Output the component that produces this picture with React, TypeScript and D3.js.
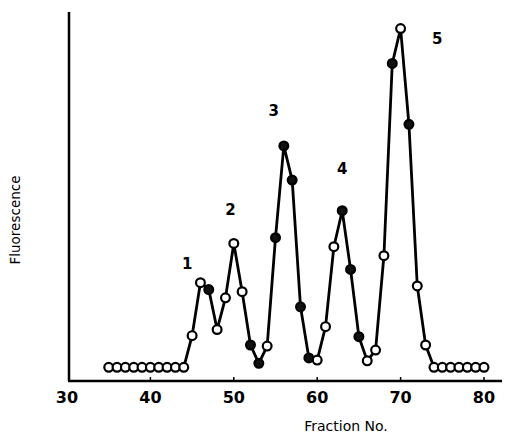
import * as d3 from "d3";
import { useEffect, useRef } from "react";

// fraction numbers and fluorescence readings (arbitrary units, 0-100)
const fractions = [
  35, 36, 37, 38, 39, 40, 41, 42, 43, 44, 45, 46, 47, 48, 49, 50, 51, 52, 53, 54,
  55, 56, 57, 58, 59, 60, 61, 62, 63, 64, 65, 66, 67, 68, 69, 70, 71, 72, 73, 74,
  75, 76, 77, 78, 79, 80,
];
const fluorescence = [
  3.8, 3.8, 3.8, 3.8, 3.8, 3.8, 3.8, 3.8, 3.8, 3.8, 12.6, 27.3, 25.4, 14.3, 23.1,
  38.2, 24.8, 10.0, 4.9, 9.7, 39.8, 65.3, 55.8, 20.6, 6.4, 5.8, 15.1, 37.3, 47.3,
  31.0, 12.3, 5.6, 8.6, 34.8, 88.2, 97.9, 71.3, 26.4, 10.0, 3.8, 3.8, 3.8, 3.8,
  3.8, 3.8, 3.8,
];
// filled (true) or open (false) marker
const filled = [
  false, false, false, false, false, false, false, false, false, false, false,
  false, true, false, false, false, false, true, true, false, true, true, true,
  true, true, false, false, false, true, true, true, false, false, false, true,
  false, true, false, false, false, false, false, false, false, false, false,
];
const xTicks = [30, 40, 50, 60, 70, 80];
const peakLabels = ["1", "2", "3", "4", "5"];
const peakX = [44.4, 49.6, 54.8, 63.0, 74.4];
const peakY = [32.5, 47.5, 75, 59, 95];

const W = 507;
const H = 434;

const App = () => {
  const ref = useRef<SVGSVGElement | null>(null);

  useEffect(() => {
    const svg = d3.select(ref.current);
    svg.selectAll("*").remove();

    const x = d3.scaleLinear().domain([30, 80]).range([67, 484]);
    const y = d3.scaleLinear().domain([0, 100]).range([381, 21]);
    const font = "'DejaVu Sans', sans-serif";

    // axes
    svg
      .append("line")
      .attr("x1", 69)
      .attr("x2", 69)
      .attr("y1", 12)
      .attr("y2", 381)
      .attr("stroke", "#000")
      .attr("stroke-width", 2.5);
    svg
      .append("line")
      .attr("x1", 68)
      .attr("x2", 502)
      .attr("y1", 381)
      .attr("y2", 381)
      .attr("stroke", "#000")
      .attr("stroke-width", 2.5);

    const xt = svg.append("g");
    xt.selectAll("line")
      .data(xTicks.slice(1))
      .enter()
      .append("line")
      .attr("x1", (d) => x(d))
      .attr("x2", (d) => x(d))
      .attr("y1", 381)
      .attr("y2", 377)
      .attr("stroke", "#000")
      .attr("stroke-width", 1.5);
    xt.selectAll("text")
      .data(xTicks)
      .enter()
      .append("text")
      .attr("x", (d) => x(d))
      .attr("y", 403)
      .attr("text-anchor", "middle")
      .attr("font-family", font)
      .attr("font-size", 16)
      .attr("font-weight", 600)
      .text((d) => d);

    svg
      .append("text")
      .attr("x", 346)
      .attr("y", 431)
      .attr("text-anchor", "middle")
      .attr("font-family", font)
      .attr("font-size", 14)
      .text("Fraction No.");

    svg
      .append("text")
      .attr("transform", "translate(20,220) rotate(-90)")
      .attr("text-anchor", "middle")
      .attr("font-family", font)
      .attr("font-size", 13.5)
      .text("Fluorescence");

    const pts = fractions.map((f, i) => ({ f, v: fluorescence[i], s: filled[i] }));

    const line = d3
      .line<{ f: number; v: number }>()
      .x((d) => x(d.f))
      .y((d) => y(d.v));

    svg
      .append("path")
      .datum(pts)
      .attr("d", line)
      .attr("fill", "none")
      .attr("stroke", "#000")
      .attr("stroke-width", 2.8)
      .attr("stroke-linejoin", "round");

    svg
      .selectAll("circle.pt")
      .data(pts)
      .enter()
      .append("circle")
      .attr("class", "pt")
      .attr("cx", (d) => x(d.f))
      .attr("cy", (d) => y(d.v))
      .attr("r", 4.4)
      .attr("fill", (d) => (d.s ? "#111" : "#fff"))
      .attr("stroke", "#000")
      .attr("stroke-width", 2.2);

    svg
      .selectAll("text.peak")
      .data(peakLabels)
      .enter()
      .append("text")
      .attr("class", "peak")
      .attr("x", (d, i) => x(peakX[i]))
      .attr("y", (d, i) => y(peakY[i]))
      .attr("text-anchor", "middle")
      .attr("dominant-baseline", "central")
      .attr("font-family", font)
      .attr("font-size", 15)
      .attr("font-weight", 600)
      .text((d) => d);
  }, []);

  return (
    <svg
      ref={ref}
      width={W}
      height={H}
      style={{ position: "absolute", left: 0, top: 0, background: "#fff" }}
    />
  );
};

export default App;
